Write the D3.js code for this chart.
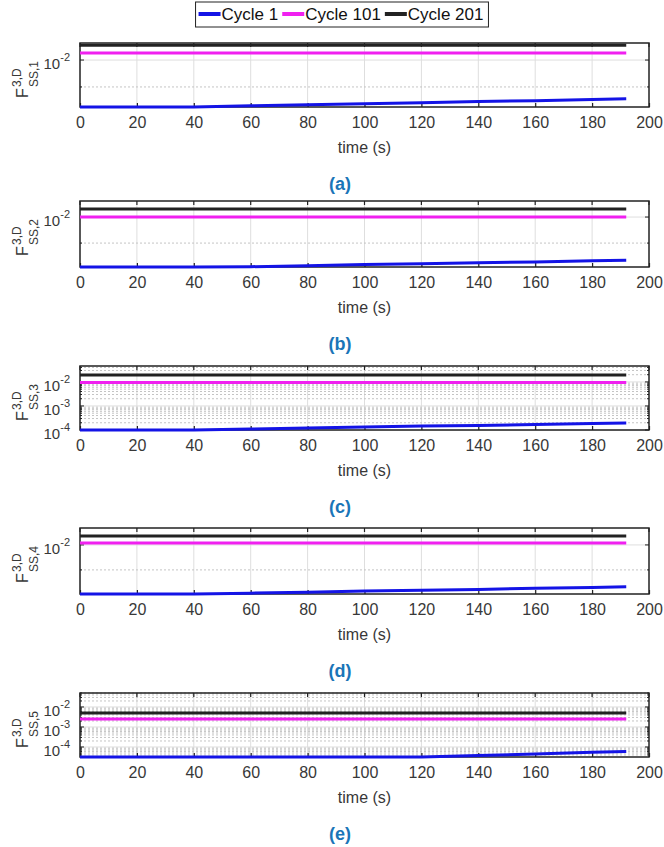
<!DOCTYPE html>
<html>
<head>
<meta charset="utf-8">
<script src="https://cdn.jsdelivr.net/npm/d3@7"></script>
<style>
  body { margin: 0; background: #fff; }
  svg { font-family: "Liberation Sans", Arial, sans-serif; }
</style>
</head>
<body>
<div id="app"></div>
<script>
// values
const times = [0, 20, 40, 60, 80, 100, 120, 140, 160, 180, 192];
const flatTimes = [0, 192];

const cycle1A = [0.00832, 0.00832, 0.00832, 0.00836, 0.00839, 0.00843, 0.00846, 0.0085, 0.00853, 0.00857, 0.00859];
const cycle101A = [0.01028, 0.01028];
const cycle201A = [0.0106, 0.0106];

const cycle1B = [0.00817, 0.00817, 0.00817, 0.00818, 0.00821, 0.00825, 0.00828, 0.00831, 0.00834, 0.00838, 0.0084];
const cycle101B = [0.01, 0.01];
const cycle201B = [0.01033, 0.01033];

const cycle1C = [0.0001, 0.0001, 0.0001, 0.00011, 0.000121, 0.000133, 0.000147, 0.000154, 0.00017, 0.000187, 0.000196];
const cycle101C = [0.0095, 0.0095];
const cycle201C = [0.0196, 0.0196];

const cycle1D = [0.00813, 0.00813, 0.00813, 0.00816, 0.00819, 0.00823, 0.00826, 0.00829, 0.00833, 0.00836, 0.00838];
const cycle101D = [0.01008, 0.01008];
const cycle201D = [0.01038, 0.01038];

const cycle1E = [3.16e-5, 3.16e-5, 3.16e-5, 3.16e-5, 3.16e-5, 3.16e-5, 3.2e-5, 3.76e-5, 4.47e-5, 5.4e-5, 6.0e-5];
const cycle101E = [0.0025, 0.0025];
const cycle201E = [0.005, 0.005];

// y limits of each subplot
const yLimA = [0.00832, 0.01069];
const yLimB = [0.00817, 0.01067];
const yLimC = [0.0001, 0.046];
const yLimD = [0.00813, 0.01074];
const yLimE = [3.16e-5, 0.05];

const xTicks = [0, 20, 40, 60, 80, 100, 120, 140, 160, 180, 200];
const seriesNames = ["Cycle 1", "Cycle 101", "Cycle 201"];
const panelLabels = ["(a)", "(b)", "(c)", "(d)", "(e)"];
const ySubscripts = ["SS,1", "SS,2", "SS,3", "SS,4", "SS,5"];

// styles / layout
const colors = ["#1414e6", "#f020f0", "#222222"];
const panelTop = [43, 201, 366, 528, 693];
const panelBottom = [107, 267, 430, 594, 757];
const left = 80, right = 649;

const panels = [
  { lim: yLimA, series: [cycle1A, cycle101A, cycle201A] },
  { lim: yLimB, series: [cycle1B, cycle101B, cycle201B] },
  { lim: yLimC, series: [cycle1C, cycle101C, cycle201C] },
  { lim: yLimD, series: [cycle1D, cycle101D, cycle201D] },
  { lim: yLimE, series: [cycle1E, cycle101E, cycle201E] }
];

const svg = d3.select("#app").append("svg")
  .attr("width", 664).attr("height", 847);

const x = d3.scaleLinear().domain([0, 200]).range([left, right]);
const isDecade = (t) => Math.abs(Math.log10(t) - Math.round(Math.log10(t))) < 1e-6;

// matlab style log ticks: k * 10^e inside the limits
const logTicks = (lim) => {
  const out = [];
  for (let e = Math.floor(Math.log10(lim[0])); e <= Math.ceil(Math.log10(lim[1])); e++) {
    for (let k = 1; k < 10; k++) {
      const t = +(k * Math.pow(10, e)).toPrecision(6);
      if (t >= lim[0] * 0.9999 && t <= lim[1] * 1.0001) out.push(t);
    }
  }
  return out;
};

panels.forEach((p, i) => {
  const top = panelTop[i], bottom = panelBottom[i];
  const y = d3.scaleLog().domain(p.lim).range([bottom, top]);
  const yTicks = logTicks(p.lim);
  const major = yTicks.filter(isDecade);
  const minor = yTicks.filter((t) => !isDecade(t));
  const g = svg.append("g");

  // grid
  g.selectAll(".vgrid").data(xTicks.slice(1, -1)).join("line")
    .attr("x1", (d) => x(d)).attr("x2", (d) => x(d))
    .attr("y1", top).attr("y2", bottom)
    .attr("stroke", "#dedede").attr("stroke-width", 1);
  g.selectAll(".mgrid").data(minor).join("line")
    .attr("x1", left).attr("x2", right)
    .attr("y1", (d) => y(d)).attr("y2", (d) => y(d))
    .attr("stroke", "#c4c4c4").attr("stroke-width", 1)
    .attr("stroke-dasharray", "2,2");
  g.selectAll(".hgrid").data(major).join("line")
    .attr("x1", left).attr("x2", right)
    .attr("y1", (d) => y(d)).attr("y2", (d) => y(d))
    .attr("stroke", "#dedede").attr("stroke-width", 1);

  // x axis (ticks inside, labels below)
  const xAxis = g.append("g")
    .attr("transform", `translate(0,${bottom})`)
    .call(d3.axisBottom(x).tickValues(xTicks).tickSizeInner(-4).tickSizeOuter(0).tickPadding(10));
  xAxis.select(".domain").remove();
  xAxis.selectAll("line").attr("stroke", "#222").attr("stroke-width", 1.2);
  xAxis.selectAll("text").attr("font-size", 16).attr("fill", "#383838")
    .attr("font-family", "Liberation Sans, Arial, sans-serif");
  g.selectAll(".xtop").data(xTicks).join("line")
    .attr("x1", (d) => x(d)).attr("x2", (d) => x(d))
    .attr("y1", top).attr("y2", top + 4)
    .attr("stroke", "#222").attr("stroke-width", 1.2);

  // y ticks left and right
  [left, right].forEach((xx) => {
    const dir = xx === left ? 1 : -1;
    g.selectAll(null).data(yTicks).join("line")
      .attr("x1", xx).attr("x2", (d) => xx + dir * (isDecade(d) ? 4 : 2))
      .attr("y1", (d) => y(d)).attr("y2", (d) => y(d))
      .attr("stroke", "#222").attr("stroke-width", 1);
  });

  // y tick labels 10^n
  const lab = g.selectAll(".ylab").data(major).join("text")
    .attr("text-anchor", "end")
    .attr("x", left - 10)
    .attr("y", (d) => y(d) + 9)
    .attr("fill", "#383838")
    .attr("font-size", 15);
  lab.append("tspan").text("10");
  lab.append("tspan").attr("font-size", 11).attr("dy", -8)
    .text((d) => "-" + Math.abs(Math.round(Math.log10(d))));

  // box
  g.append("rect")
    .attr("x", left).attr("y", top)
    .attr("width", right - left).attr("height", bottom - top)
    .attr("fill", "none").attr("stroke", "#222").attr("stroke-width", 1.5);

  // lines
  const line = d3.line().x((d) => x(d[0])).y((d) => y(d[1]));
  p.series.forEach((vals, k) => {
    const ts = vals.length === times.length ? times : flatTimes;
    g.append("path")
      .datum(ts.map((t, j) => [t, vals[j]]))
      .attr("fill", "none")
      .attr("stroke", colors[k])
      .attr("stroke-width", 3)
      .attr("d", line);
  });

  // y label F^{3,D}_{SS,k}
  const yl = g.append("g")
    .attr("transform", `translate(28,${top + 55}) rotate(-90)`)
    .attr("fill", "#383838");
  yl.append("text").attr("x", 0).attr("y", 0).attr("font-size", 16).text("F");
  yl.append("text").attr("x", 11).attr("y", -7).attr("font-size", 12).text("3,D");
  yl.append("text").attr("x", 11).attr("y", 10).attr("font-size", 12).text(ySubscripts[i]);

  // x label
  g.append("text")
    .attr("x", (left + right) / 2).attr("y", bottom + 46)
    .attr("text-anchor", "middle").attr("font-size", 16).attr("fill", "#383838")
    .text("time (s)");

  // panel label
  g.append("text")
    .attr("x", 340).attr("y", bottom + 83)
    .attr("text-anchor", "middle").attr("font-size", 18).attr("font-weight", "bold")
    .attr("fill", "#1a75b8")
    .text(panelLabels[i]);
});

// legend
const legend = svg.append("g");
const box = legend.append("rect")
  .attr("fill", "#fff").attr("stroke", "#222").attr("stroke-width", 1);
let cx = 0;
seriesNames.forEach((name, k) => {
  legend.append("line")
    .attr("x1", cx + 3).attr("x2", cx + 25)
    .attr("y1", 14).attr("y2", 14)
    .attr("stroke", colors[k]).attr("stroke-width", 4);
  const t = legend.append("text")
    .attr("x", cx + 26).attr("y", 20)
    .attr("font-size", 17).attr("fill", "#111")
    .text(name);
  cx += 26 + t.node().getComputedTextLength() + 1;
});
const legendW = cx + 4;
box.attr("x", 0).attr("y", 2).attr("width", legendW).attr("height", 25);
legend.attr("transform", `translate(${342 - legendW / 2},0)`);
</script>
</body>
</html>
